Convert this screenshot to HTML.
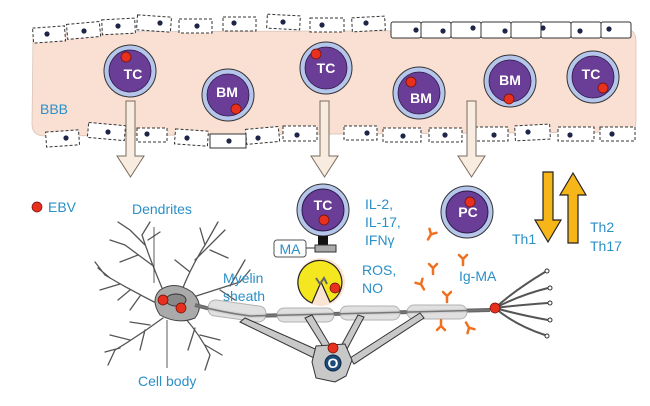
<!DOCTYPE html>
<html><head><meta charset="utf-8"><style>
html,body{margin:0;padding:0;background:#fff}
svg{display:block}
text{font-family:"Liberation Sans",sans-serif}
.lb{fill:#2b8fc8;font-size:14px}
.cl{fill:#fff;font-weight:bold;font-size:14px;text-anchor:middle}
.r{fill:#e8301e;stroke:#6b0f05;stroke-width:0.7}
</style></head><body>
<svg width="650" height="406" viewBox="0 0 650 406" xmlns="http://www.w3.org/2000/svg">
<defs>
<g id="cell"><circle r="26" fill="#b5c6ea" stroke="#333" stroke-width="1"/><circle r="21" fill="#6a3d96" stroke="#2d1a4a" stroke-width="0.8"/></g>
</defs>
<!-- vessel -->
<path d="M33 40 Q33 32 45 32 L628 30 Q636 30 636 42 L636 122 Q636 132 624 132 L45 136 Q32 136 32 124 Z" fill="#f9e0d3" stroke="#d8c4b8" stroke-width="0.8"/>
<!-- top endothelial dashed -->
<g fill="#fff" stroke="#333" stroke-width="1" stroke-dasharray="3,2">
<rect x="33" y="27" width="32" height="15" transform="rotate(-4 49 34)"/>
<rect x="67" y="23" width="33" height="15" transform="rotate(-5 83 30)"/>
<rect x="102" y="19" width="33" height="15" transform="rotate(-3 118 26)"/>
<rect x="137" y="16" width="34" height="15" transform="rotate(4 154 23)"/>
<rect x="179" y="19" width="33" height="14"/>
<rect x="223" y="17" width="33" height="14"/>
<rect x="267" y="15" width="33" height="14" transform="rotate(3 283 22)"/>
<rect x="310" y="18" width="34" height="14"/>
<rect x="352" y="17" width="33" height="14" transform="rotate(-3 368 24)"/>
</g>
<g fill="#fff" stroke="#333" stroke-width="1">
<rect x="391" y="22" width="30" height="16" rx="2"/><rect x="421" y="22" width="30" height="16" rx="2"/><rect x="451" y="22" width="30" height="16" rx="2"/><rect x="481" y="22" width="30" height="16" rx="2"/><rect x="511" y="22" width="30" height="16" rx="2"/><rect x="541" y="22" width="30" height="16" rx="2"/><rect x="571" y="22" width="30" height="16" rx="2"/><rect x="601" y="22" width="30" height="16" rx="2"/>
</g>
<!-- bottom endothelial -->
<g fill="#fff" stroke="#333" stroke-width="1" stroke-dasharray="3,2">
<rect x="46" y="131" width="33" height="15" transform="rotate(-4 62 138)"/>
<rect x="88" y="124" width="37" height="15" transform="rotate(5 106 131)"/>
<rect x="137" y="128" width="30" height="14"/>
<rect x="175" y="130" width="33" height="15" transform="rotate(4 191 137)"/>
<rect x="246" y="128" width="33" height="15" transform="rotate(-5 262 135)"/>
<rect x="283" y="126" width="34" height="15"/>
<rect x="344" y="126" width="33" height="14"/>
<rect x="383" y="128" width="38" height="14"/>
<rect x="429" y="128" width="33" height="14"/>
<rect x="475" y="127" width="33" height="14"/>
<rect x="515" y="125" width="35" height="15" transform="rotate(-3 532 132)"/>
<rect x="558" y="127" width="36" height="14"/>
<rect x="600" y="127" width="35" height="14"/>
</g>
<rect x="210" y="134" width="36" height="14" fill="#fff" stroke="#333"/>
<g fill="#1e2547">
<circle cx="47" cy="34" r="2.6"/><circle cx="84" cy="31" r="2.6"/><circle cx="118" cy="26" r="2.6"/><circle cx="160" cy="23" r="2.6"/><circle cx="197" cy="26" r="2.6"/><circle cx="234" cy="23" r="2.6"/><circle cx="283" cy="22" r="2.6"/><circle cx="322" cy="25" r="2.6"/><circle cx="366" cy="23" r="2.6"/>
<circle cx="416" cy="30" r="2.6"/><circle cx="443" cy="31" r="2.6"/><circle cx="473" cy="28" r="2.6"/><circle cx="505" cy="31" r="2.6"/><circle cx="543" cy="28" r="2.6"/><circle cx="580" cy="31" r="2.6"/><circle cx="609" cy="29" r="2.6"/>
<circle cx="66" cy="138" r="2.6"/><circle cx="108" cy="132" r="2.6"/><circle cx="147" cy="134" r="2.6"/><circle cx="187" cy="138" r="2.6"/><circle cx="229" cy="141" r="2.6"/><circle cx="258" cy="138" r="2.6"/><circle cx="297" cy="135" r="2.6"/><circle cx="367" cy="133" r="2.6"/><circle cx="403" cy="136" r="2.6"/><circle cx="445" cy="135" r="2.6"/><circle cx="494" cy="135" r="2.6"/><circle cx="528" cy="132" r="2.6"/><circle cx="570" cy="135" r="2.6"/><circle cx="612" cy="134" r="2.6"/>
</g>
<!-- cells in vessel -->
<g transform="translate(130,71)"><use href="#cell"/><circle class="r" cx="-4" cy="-14" r="5"/><text class="cl" x="3" y="8">TC</text></g>
<g transform="translate(228,95)"><use href="#cell"/><circle class="r" cx="8" cy="14" r="5"/><text class="cl" x="-1" y="2">BM</text></g>
<g transform="translate(326,68)"><use href="#cell"/><circle class="r" cx="-10" cy="-14" r="5"/><text class="cl" x="0" y="5">TC</text></g>
<g transform="translate(419,93)"><use href="#cell"/><circle class="r" cx="-8" cy="-11" r="5"/><text class="cl" x="2" y="10">BM</text></g>
<g transform="translate(510,81)"><use href="#cell"/><circle class="r" cx="-1" cy="18" r="5"/><text class="cl" x="0" y="4">BM</text></g>
<g transform="translate(593,77)"><use href="#cell"/><circle class="r" cx="10" cy="11" r="5"/><text class="cl" x="-2" y="2">TC</text></g>
<text x="40" y="114" class="lb" font-size="13">BBB</text>
<!-- hollow arrows -->
<g fill="#f8ece0" stroke="#7a6a5c" stroke-width="1">
<path d="M126 101 h9 v55 h9 l-13.5 21 l-13.5 -21 h9 z"/>
<path d="M320 101 h9 v55 h9 l-13.5 21 l-13.5 -21 h9 z"/>
<path d="M467 101 h9 v55 h9 l-13.5 21 l-13.5 -21 h9 z"/>
</g>
<!-- Th arrows -->
<path d="M543 172 h10 v48 h8 l-13 22 l-13 -22 h8 z" fill="#f6b619" stroke="#222" stroke-width="1.2"/>
<path d="M568 243 h10 v-48 h8 l-13 -22 l-13 22 h8 z" fill="#f6b619" stroke="#222" stroke-width="1.2"/>
<text x="512" y="244" class="lb">Th1</text>
<text x="590" y="232" class="lb">Th2</text>
<text x="590" y="251" class="lb">Th17</text>
<!-- EBV -->
<circle class="r" cx="37" cy="207" r="5"/>
<text x="48" y="212" class="lb">EBV</text>
<text x="132" y="214" class="lb">Dendrites</text>
<!-- dendrites -->
<g stroke="#555" stroke-width="1.3" fill="none" stroke-linecap="round">
<path d="M165 295 Q150 260 142 235 M152 265 L125 245 M145 245 L130 230 M142 235 L150 222 M125 245 L110 240 M130 230 L118 222 M138 255 L120 262 M148 240 L160 232"/>
<path d="M182 290 Q192 265 205 245 M195 260 L215 240 M205 245 L200 228 M215 240 L225 230 M205 245 L218 222 M190 272 L175 260 M210 250 L228 258"/>
<path d="M160 305 Q130 290 105 275 M120 284 L100 290 M105 275 L95 262 M130 290 L118 300 M110 278 L98 268 M140 296 L130 310"/>
<path d="M163 318 Q140 335 115 350 M130 340 L110 335 M115 350 L108 365 M145 330 L140 350 M120 348 L105 352 M150 325 L130 322"/>
<path d="M185 318 Q200 335 210 355 M200 335 L220 340 M210 355 L205 370 M195 328 L188 350 M205 345 L222 355"/>
<path d="M190 298 Q215 290 240 282 M220 290 L235 300 M240 282 L250 270 M230 286 L245 260"/>
</g>
<path d="M160 290 Q175 280 192 292 Q205 305 195 318 Q178 325 160 315 Q150 300 160 290 Z" fill="#aaa" stroke="#444"/>
<ellipse cx="176" cy="300" rx="10" ry="6" fill="#888" stroke="#333"/>
<circle class="r" cx="163" cy="300" r="5"/>
<circle class="r" cx="181" cy="308" r="5"/>
<line x1="167" y1="320" x2="167" y2="368" stroke="#333" stroke-width="0.8"/>
<line x1="154" y1="227" x2="154" y2="283" stroke="#333" stroke-width="0.8"/>
<text x="138" y="386" class="lb">Cell body</text>
<!-- axon -->
<path d="M195 305 Q220 312 250 316 L490 310" stroke="#666" stroke-width="4" fill="none"/>
<g fill="#ddd" stroke="#aaa" stroke-width="1" opacity="0.9">
<rect x="208" y="303" width="58" height="16" rx="7" transform="rotate(8 237 311)"/>
<rect x="277" y="308" width="57" height="14" rx="7"/>
<rect x="340" y="306" width="60" height="14" rx="7"/>
<rect x="407" y="305" width="60" height="14" rx="7"/>
</g>
<path d="M195 305 Q220 312 250 316 L490 310" stroke="#777" stroke-width="1.5" fill="none"/>
<text x="223" y="283" class="lb">Myelin</text>
<text x="223" y="301" class="lb">sheath</text>
<!-- oligodendrocyte -->
<g fill="#c8c8c8" stroke="#333" stroke-width="1">
<path d="M240 322 L318 360 L322 352 L245 318 Z"/>
<path d="M305 318 L325 350 L331 347 L312 315 Z"/>
<path d="M358 315 L340 348 L346 351 L364 317 Z"/>
<path d="M420 313 L350 358 L354 364 L424 318 Z"/>
<path d="M316 346 L345 344 L352 360 L346 376 L335 382 L316 378 L312 362 Z"/>
</g>
<circle cx="333" cy="363" r="8" fill="#1c4b7a" stroke="#0d2a45"/>
<text x="333" y="368" class="cl" font-size="12">O</text>
<circle class="r" cx="333" cy="348" r="5"/>
<!-- lower TC -->
<g transform="translate(323,210)"><circle r="26" fill="#b5c6ea" stroke="#333"/><circle r="21" fill="#6a3d96" stroke="#2d1a4a"/><text class="cl" x="0" y="0">TC</text><circle class="r" cx="1" cy="10" r="5"/></g>
<rect x="318" y="236" width="10" height="10" fill="#111"/>
<rect x="315" y="245" width="21" height="7" fill="#aaa" stroke="#333"/>
<line x1="306" y1="248" x2="315" y2="248" stroke="#333"/>
<rect x="274" y="240" width="32" height="17" rx="3" fill="#fff" stroke="#555"/>
<text x="290" y="254" class="lb" text-anchor="middle">MA</text>
<circle cx="321" cy="282" r="24" fill="#fbd8c0" opacity="0.7"/>
<path d="M321 282 L312 303 A22 22 0 1 1 330 302 Z" fill="#f4e71f" stroke="#222" stroke-width="1.2"/>
<circle class="r" cx="335" cy="288" r="5"/>
<path d="M316 278 l4 6 l4 -6 l3 6" stroke="#666" stroke-width="2" fill="none"/>
<text x="365" y="209" class="lb">IL-2,</text>
<text x="365" y="227" class="lb">IL-17,</text>
<text x="365" y="245" class="lb">IFNγ</text>
<text x="362" y="275" class="lb">ROS,</text>
<text x="362" y="293" class="lb">NO</text>
<!-- PC -->
<g transform="translate(467,212)"><circle r="26" fill="#b5c6ea" stroke="#333"/><circle r="21" fill="#6a3d96" stroke="#2d1a4a"/><text class="cl" x="1" y="5">PC</text><circle class="r" cx="3" cy="-10" r="5"/></g>
<text x="459" y="281" class="lb">Ig-MA</text>
<!-- antibodies -->
<g stroke="#f07020" stroke-width="2.5" fill="none" stroke-linecap="round">
<path d="M430 240 v-6 l-4 -4 M430 234 l4 -4" transform="rotate(30 430 236)"/>
<path d="M463 265 v-6 l-4 -4 M463 259 l4 -4"/>
<path d="M433 274 v-6 l-4 -4 M433 268 l4 -4"/>
<path d="M422 290 v-6 l-4 -4 M422 284 l4 -4" transform="rotate(-30 422 286)"/>
<path d="M447 302 v-6 l-4 -4 M447 296 l4 -4"/>
<path d="M441 320 v6 l-4 4 M441 326 l4 4"/>
<path d="M468 330 v-6 l-4 -4 M468 324 l4 -4" transform="rotate(150 468 326)"/>
</g>
<!-- terminal -->
<g stroke="#555" stroke-width="2" fill="none">
<path d="M495 308 Q515 290 545 272"/><path d="M495 308 Q520 295 548 288"/><path d="M495 308 Q520 305 548 303"/><path d="M495 308 Q520 315 548 320"/><path d="M495 308 Q515 325 545 335"/>
</g>
<g fill="#fff" stroke="#333"><circle cx="547" cy="271" r="2"/><circle cx="550" cy="288" r="2"/><circle cx="550" cy="303" r="2"/><circle cx="550" cy="320" r="2"/><circle cx="547" cy="336" r="2"/></g>
<circle class="r" cx="495" cy="308" r="5"/>
</svg>
</body></html>
